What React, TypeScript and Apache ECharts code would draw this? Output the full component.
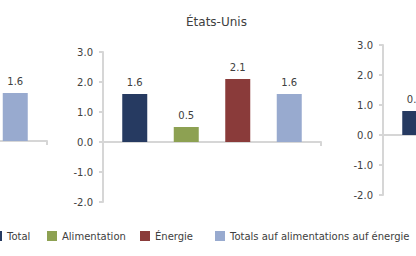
import React, { useEffect, useRef } from 'react';
import * as echarts from 'echarts';

const categories = ['Total', 'Alimentation', 'Énergie', 'Totals auf alimentations auf énergie'];
const leftValues: (number | null)[] = [null, null, null, 1.6];
const usValues: (number | null)[] = [1.6, 0.5, 2.1, 1.6];
const rightValues: (number | null)[] = [0.8, null, null, null];
const yMin = -2;
const yMax = 3;
const yInterval = 1;
const titleText = 'États-Unis';

const seriesColors = ['#263a61', '#8da152', '#8a3b3a', '#98aacf'];
const axisColor = '#d6d6d6';
const textColor = '#404040';
const font = 'DejaVu Sans';
const OFF = 300;

export default function App() {
  const ref = useRef<HTMLDivElement>(null);
  useEffect(() => {
    if (!ref.current) return;
    const chart = echarts.init(ref.current, undefined, { renderer: 'svg' });
    const panels = [
      { values: leftValues, axisLeft: -171, top: 51, showYLabels: false },
      { values: usValues, axisLeft: 103, top: 52, showYLabels: true },
      { values: rightValues, axisLeft: 383, top: 45, showYLabels: true },
    ];
    const grid: any[] = [];
    const xAxis: any[] = [];
    const yAxis: any[] = [];
    const series: any[] = [];
    panels.forEach((p, i) => {
      grid.push({ left: p.axisLeft + OFF, top: p.top, width: 218, height: 150, containLabel: false });
      grid.push({ left: p.axisLeft + OFF + 6, top: p.top, width: 206, height: 150, containLabel: false });
      xAxis.push({
        type: 'category', gridIndex: 2 * i, data: [''],
        axisLine: { show: true, lineStyle: { color: axisColor, width: 2 } },
        axisTick: { show: true, length: 4, lineStyle: { color: axisColor, width: 2 } },
        axisLabel: { show: false },
      });
      xAxis.push({ type: 'category', gridIndex: 2 * i + 1, data: categories, show: false });
      yAxis.push({
        type: 'value', gridIndex: 2 * i, min: yMin, max: yMax, interval: yInterval,
        axisLine: { show: true, lineStyle: { color: axisColor, width: 2 } },
        axisTick: { show: true, length: 4, lineStyle: { color: axisColor, width: 2 } },
        axisLabel: { show: p.showYLabels, margin: 10, fontSize: 10, color: textColor, fontFamily: font, formatter: (v: number) => v.toFixed(1) },
        splitLine: { show: false },
      });
      yAxis.push({ type: 'value', gridIndex: 2 * i + 1, min: yMin, max: yMax, show: false, splitLine: { show: false } });
      categories.forEach((c, j) => {
        series.push({
          type: 'bar', name: c, xAxisIndex: 2 * i + 1, yAxisIndex: 2 * i + 1,
          stack: 'p' + i, barWidth: 25,
          data: p.values.map((v, k) => (k === j ? v : null)),
          itemStyle: { color: seriesColors[j] },
          label: {
            show: true, position: 'top', distance: 7, fontSize: 10, color: textColor, fontFamily: font,
            formatter: (prm: any) => (prm.value == null ? '' : Number(prm.value).toFixed(1)),
          },
        });
      });
    });
    const legendLefts = [-8, 47, 140, 215];
    const legend = categories.map((c, j) => ({
      data: [c], left: legendLefts[j] + OFF, top: 231, padding: 0, itemWidth: 10, itemHeight: 10,
      icon: 'rect', selectedMode: false,
      textStyle: { fontSize: 10, color: textColor, fontFamily: font },
    }));
    chart.setOption({
      animation: false,
      textStyle: { fontFamily: font },
      title: { text: titleText, left: 181 + OFF, top: 11, textStyle: { fontSize: 12, fontWeight: 'normal', color: textColor, fontFamily: font } },
      grid, xAxis, yAxis, series, legend,
    });
    return () => chart.dispose();
  }, []);
  return <div ref={ref} style={{ position: 'fixed', left: -OFF, top: 0, width: 416 + 2 * OFF, height: 256, background: '#fff' }} />;
}
